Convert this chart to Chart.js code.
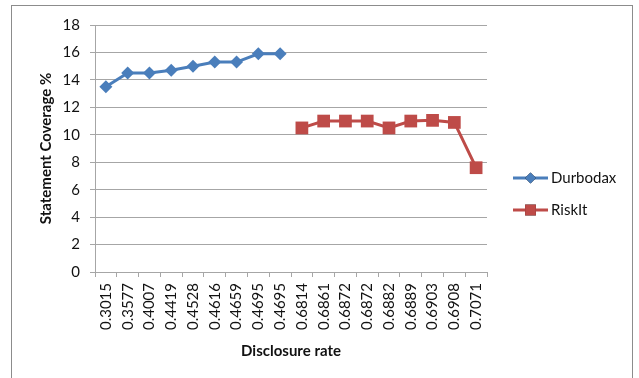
<!DOCTYPE html>
<html>
<head>
<meta charset="utf-8">
<script src="https://cdn.jsdelivr.net/npm/chart.js@4"></script>
<style>
  html, body { margin: 0; padding: 0; background: #fff; }
  #wrap { position: relative; width: 639px; height: 378px; overflow: hidden; }
  #frame { position: absolute; left: 11px; top: 5px; width: 622px; height: 400px; border: 1px solid #8c8c8c; box-sizing: border-box; }
  canvas { position: absolute; left: 0; top: 0; }
</style>
</head>
<body>
<div id="wrap">
  <div id="frame"></div>
  <canvas id="c" width="639" height="378"></canvas>
</div>
<script>
const categories = ["0.3015","0.3577","0.4007","0.4419","0.4528","0.4616","0.4659","0.4695","0.4695",
                    "0.6814","0.6861","0.6872","0.6872","0.6882","0.6889","0.6903","0.6908","0.7071"];
const durbodax = [13.5, 14.5, 14.5, 14.7, 15.0, 15.3, 15.3, 15.9, 15.9,
                  null, null, null, null, null, null, null, null, null];
const riskit = [null, null, null, null, null, null, null, null, null,
                10.5, 11.0, 11.0, 11.0, 10.5, 11.0, 11.05, 10.9, 7.6];
const yTicks = [0, 2, 4, 6, 8, 10, 12, 14, 16, 18];
const seriesNames = ["Durbodax", "RiskIt"];

const BLUE = '#4A7EBB';
const RED = '#BE4B48';
const GRID = '#A6A6A6';
const FONT = 'Lato, "Open Sans", sans-serif';

const legendPlugin = {
  id: 'sideLegend',
  afterDraw(chart) {
    const ctx = chart.ctx;
    const x0 = 513, x1 = 548, tx = 551;
    const ys = [178, 210];
    chart.data.datasets.forEach((ds, i) => {
      const y = ys[i];
      ctx.save();
      ctx.strokeStyle = ds.borderColor;
      ctx.lineWidth = ds.borderWidth;
      ctx.beginPath();
      ctx.moveTo(x0, y);
      ctx.lineTo(x1, y);
      ctx.stroke();
      Chart.helpers.drawPoint(ctx, {
        pointStyle: ds.pointStyle,
        radius: ds.pointRadius * 0.85,
        borderWidth: 0
      }, (x0 + x1) / 2, y);
      ctx.fillStyle = ds.pointBackgroundColor;
      ctx.fill();
      ctx.fillStyle = '#111';
      ctx.font = '15px ' + FONT;
      ctx.textBaseline = 'middle';
      ctx.textAlign = 'left';
      ctx.fillText(ds.label, tx, y);
      ctx.restore();
    });
  }
};

new Chart(document.getElementById('c'), {
  type: 'line',
  data: {
    labels: categories,
    datasets: [
      {
        label: seriesNames[0],
        data: durbodax,
        borderColor: BLUE,
        backgroundColor: BLUE,
        pointBackgroundColor: BLUE,
        pointBorderColor: BLUE,
        borderWidth: 3,
        pointStyle: 'rectRot',
        pointRadius: 6.5,
        pointBorderWidth: 0,
        tension: 0,
        spanGaps: false
      },
      {
        label: seriesNames[1],
        data: riskit,
        borderColor: RED,
        backgroundColor: RED,
        pointBackgroundColor: RED,
        pointBorderColor: RED,
        borderWidth: 3,
        pointStyle: 'rect',
        pointRadius: 9,
        pointBorderWidth: 0,
        tension: 0,
        spanGaps: false
      }
    ]
  },
  options: {
    responsive: false,
    animation: false,
    devicePixelRatio: 1,
    layout: { padding: { left: 37, right: 152, top: 25, bottom: 18 } },
    plugins: {
      legend: { display: false },
      tooltip: { enabled: false }
    },
    scales: {
      x: {
        type: 'category',
        offset: true,
        afterFit(scale) { scale.height = 378 - 272 - 18; },
        grid: {
          display: true,
          drawOnChartArea: false,
          drawTicks: true,
          tickLength: 5,
          offset: true,
          color: GRID
        },
        border: { display: true, color: GRID, width: 1 },
        ticks: {
          autoSkip: false,
          maxRotation: 90,
          minRotation: 90,
          padding: 6,
          color: '#111',
          font: { family: FONT, size: 15 }
        },
        title: {
          display: true,
          text: 'Disclosure rate',
          color: '#111',
          font: { family: FONT, size: 15, weight: 'bold' },
          padding: { top: 4, bottom: 0 }
        }
      },
      y: {
        min: 0,
        max: 18,
        afterFit(scale) { scale.width = 95 - 37; },
        afterBuildTicks(scale) { scale.ticks = yTicks.map(v => ({ value: v })); },
        grid: {
          color: GRID,
          drawTicks: true,
          tickLength: 5
        },
        border: { display: true, color: GRID, width: 1 },
        ticks: {
          padding: 10,
          color: '#111',
          font: { family: FONT, size: 15 }
        },
        title: {
          display: true,
          text: 'Statement Coverage %',
          color: '#111',
          font: { family: FONT, size: 15, weight: 'bold' },
          padding: { top: 0, bottom: 0 }
        }
      }
    }
  },
  plugins: [legendPlugin]
});
</script>
</body>
</html>
